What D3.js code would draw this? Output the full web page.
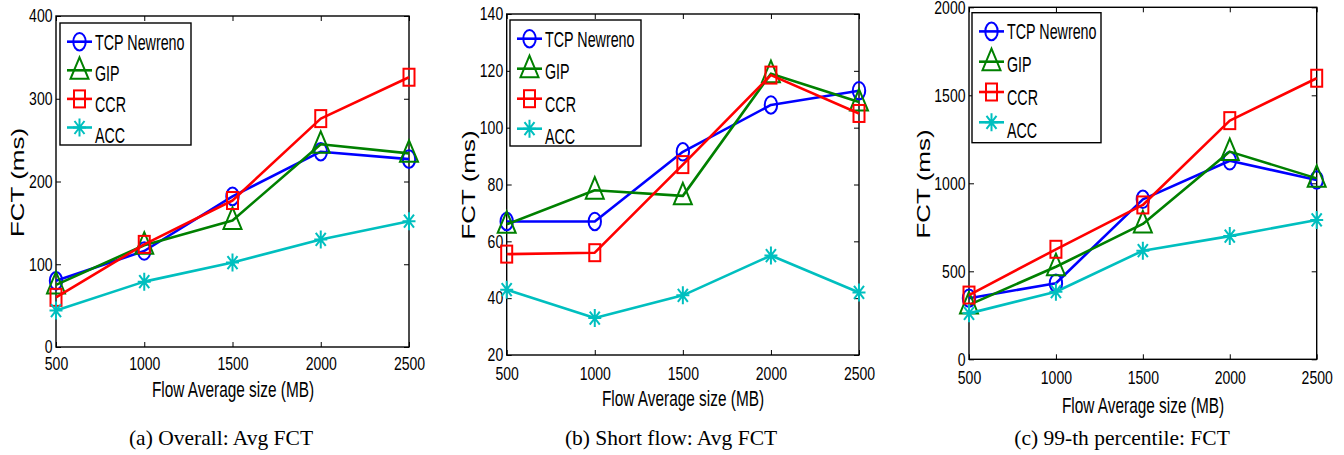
<!DOCTYPE html>
<html><head><meta charset="utf-8">
<script src="https://cdn.jsdelivr.net/npm/d3@7"></script>
<style>
html,body{margin:0;padding:0;background:#fff;}
svg{display:block;}
text{font-family:"Liberation Sans",Arial,Helvetica,sans-serif;}
.cap{font-family:"Liberation Serif","Times New Roman",serif;}
</style></head><body>
<svg id="chart" width="1344" height="455"></svg>
<script>
// ---------- data ----------
const flowSizes = [500, 1000, 1500, 2000, 2500];
const seriesNames = ["TCP Newreno", "GIP", "CCR", "ACC"];

// (a) Overall: Avg FCT
const avgTCP = [80, 116, 182, 236, 227];
const avgGIP = [75, 123, 153, 245, 234];
const avgCCR = [60, 124, 177, 276, 326];
const avgACC = [44, 79, 102, 130, 152];
// (b) Short flow: Avg FCT
const shortTCP = [67, 67, 91.5, 108, 113];
const shortGIP = [66, 78, 76, 119, 109];
const shortCCR = [55.5, 56, 87, 118.5, 105];
const shortACC = [43, 33, 41, 55, 42];
// (c) 99-th percentile: FCT
const p99TCP = [347, 432, 909, 1128, 1019];
const p99GIP = [309, 526, 769, 1180, 1028];
const p99CCR = [365, 625, 877, 1356, 1597];
const p99ACC = [261, 384, 617, 700, 792];

const yTicksA = [0, 100, 200, 300, 400];
const yTicksB = [20, 40, 60, 80, 100, 120, 140];
const yTicksC = [0, 500, 1000, 1500, 2000];

const captions = ["(a) Overall: Avg FCT", "(b) Short flow: Avg FCT", "(c) 99-th percentile: FCT"];
const xTitle = "Flow Average size (MB)";
const yTitle = "FCT (ms)";

// ---------- styles ----------
const colors = ["#0000ff", "#008000", "#ff0000", "#00bfbf"];
const markers = ["circle", "triangle", "square", "star"];

const panels = [
  {data:[avgTCP, avgGIP, avgCCR, avgACC], ticks:yTicksA, dom:[0,400],
   box:{l:56, r:409, t:16, b:347}, xPad:10.5, yLab:[17,182.5], xLab:[233,397], cap:221,
   leg:{x:60, y:23, w:131, h:122, lineStep:28.6, textStep:31}},
  {data:[shortTCP, shortGIP, shortCCR, shortACC], ticks:yTicksB, dom:[20,140],
   box:{l:506.7, r:859, t:14, b:355}, xPad:12, yLab:[468,185], xLab:[683,406], cap:671,
   leg:{x:510, y:20, w:131, h:126, lineStep:30, textStep:32.5}},
  {data:[p99TCP, p99GIP, p99CCR, p99ACC], ticks:yTicksC, dom:[0,2000],
   box:{l:969, r:1316.7, t:7.3, b:359.3}, xPad:12, yLab:[923,184], xLab:[1143,413], cap:1122,
   leg:{x:972, y:12.7, w:129, h:130, lineStep:30.3, textStep:33}}
];

const svg = d3.select("#chart");
const fmt = d3.format("d");

function drawMarker(g, type, cx, cy, color) {
  const m = g.append("g").attr("transform", `translate(${cx},${cy})`)
    .attr("fill", "none").attr("stroke", color).attr("stroke-width", 2);
  if (type === "circle") {
    m.append("ellipse").attr("rx", 6.2).attr("ry", 8.8);
  } else if (type === "square") {
    m.append("rect").attr("x", -5.5).attr("y", -8.5).attr("width", 11).attr("height", 17);
  } else if (type === "triangle") {
    m.append("path").attr("d", "M0,-13 L9,8.5 L-9,8.5 Z");
  } else if (type === "star") {
    m.append("path").attr("d", "M0,-9 L0,9 M-6.5,0 L6.5,0 M-5,-6.5 L5,6.5 M-5,6.5 L5,-6.5");
  }
}

panels.forEach((p, pi) => {
  const B = p.box;
  const x = d3.scaleLinear().domain([500, 2500]).range([B.l, B.r]);
  const y = d3.scaleLinear().domain(p.dom).range([B.b, B.t]);
  const g = svg.append("g");

  // axes box
  g.append("rect").attr("x", B.l).attr("y", B.t).attr("width", B.r - B.l).attr("height", B.b - B.t)
    .attr("fill", "#fff").attr("stroke", "#000").attr("stroke-width", 1.4);

  const ax = g.append("g").attr("transform", `translate(0,${B.b})`)
    .call(d3.axisBottom(x).tickValues(flowSizes).tickFormat(fmt).tickSizeInner(-5).tickSizeOuter(0).tickPadding(p.xPad));
  const axT = g.append("g").attr("transform", `translate(0,${B.t})`)
    .call(d3.axisTop(x).tickValues(flowSizes).tickSizeInner(-5).tickSizeOuter(0).tickFormat(""));
  const ay = g.append("g").attr("transform", `translate(${B.l},0)`)
    .call(d3.axisLeft(y).tickValues(p.ticks).tickFormat(fmt).tickSizeInner(-5).tickSizeOuter(0).tickPadding(4.5));
  const ayR = g.append("g").attr("transform", `translate(${B.r},0)`)
    .call(d3.axisRight(y).tickValues(p.ticks).tickSizeInner(-5).tickSizeOuter(0).tickFormat(""));
  [ax, axT, ay, ayR].forEach(a => {
    a.select(".domain").remove();
    a.selectAll("line").attr("stroke", "#000").attr("stroke-width", 1);
    a.selectAll("text").attr("font-family", "Liberation Sans, Arial, sans-serif")
      .attr("font-size", 18).attr("fill", "#000").attr("transform", "scale(0.78,1)");
  });

  // series
  const line = d3.line().x((d, i) => x(flowSizes[i])).y(d => y(d));
  p.data.forEach((vals, si) => {
    g.append("path").datum(vals).attr("d", line).attr("fill", "none")
      .attr("stroke", colors[si]).attr("stroke-width", 2.6).attr("stroke-linejoin", "round");
    vals.forEach((v, i) => drawMarker(g, markers[si], x(flowSizes[i]), y(v), colors[si]));
  });

  // legend
  const L = p.leg;
  const lg = g.append("g");
  lg.append("rect").attr("x", L.x).attr("y", L.y).attr("width", L.w).attr("height", L.h)
    .attr("fill", "#fff").attr("stroke", "#000").attr("stroke-width", 1.4);
  seriesNames.forEach((name, si) => {
    const ly = L.y + 18.7 + si * L.lineStep;
    const ty = L.y + 18.7 + si * L.textStep + 7.9;
    lg.append("line").attr("x1", L.x + 7).attr("x2", L.x + 32).attr("y1", ly).attr("y2", ly)
      .attr("stroke", colors[si]).attr("stroke-width", 2.6);
    drawMarker(lg, markers[si], L.x + 19.5, ly, colors[si]);
    lg.append("text").attr("transform", `translate(${L.x + 35},${ty}) scale(0.65,1)`)
      .attr("font-size", 22).attr("fill", "#000").text(name);
  });

  // axis titles
  g.append("text").attr("transform", `translate(${p.xLab[0]},${p.xLab[1]}) scale(0.7,1)`)
    .attr("text-anchor", "middle").attr("font-size", 22).attr("fill", "#000").text(xTitle);
  g.append("text").attr("transform", `translate(${p.yLab[0]},${p.yLab[1]}) scale(0.7,1) rotate(-90)`)
    .attr("text-anchor", "middle").attr("dy", "0.36em").attr("font-size", 26).attr("fill", "#000").text(yTitle);

  // caption
  svg.append("text").attr("class", "cap").attr("x", p.cap).attr("y", 445)
    .attr("text-anchor", "middle").attr("font-size", 21.5).attr("fill", "#000").text(captions[pi]);
});
</script>
</body></html>
